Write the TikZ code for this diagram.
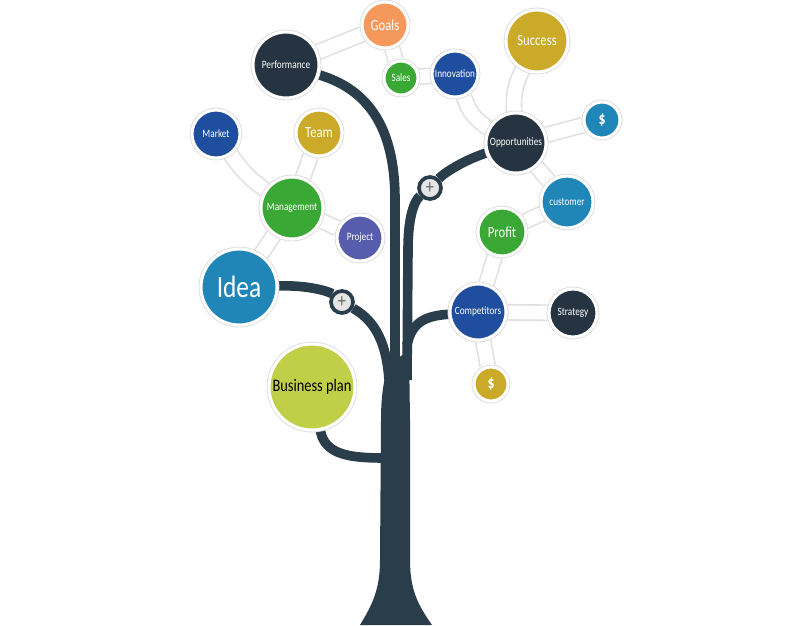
\documentclass[tikz,border=0pt]{standalone}
\usepackage{fontspec}
\setmainfont{Carlito}[FakeStretch=0.82]
\pgfdeclarelayer{bg}
\pgfsetlayers{bg,main}
\definecolor{trunkc}{RGB}{42,61,74}
\definecolor{darkn}{RGB}{37,52,64}
\definecolor{orangen}{RGB}{245,152,92}
\definecolor{greenn}{RGB}{58,168,52}
\definecolor{navyn}{RGB}{31,78,158}
\definecolor{mustn}{RGB}{203,170,42}
\definecolor{tealn}{RGB}{32,134,184}
\definecolor{purpn}{RGB}{88,92,172}
\definecolor{limen}{RGB}{192,206,72}

\begin{document}
\begin{tikzpicture}
  [x=0.025cm,y=-0.025cm,
   bub/.style={circle,inner sep=0pt,minimum size=#1*0.05cm,text=white,
     draw=white,line width=2.2pt,preaction={draw=black!14,line width=3.4pt}},
   sm/.style={font=\fontsize{8}{9}\selectfont},
   md/.style={font=\fontsize{11}{12}\selectfont},
   dol/.style={font=\bfseries\fontsize{12}{12}\selectfont},
   plusn/.style={circle,inner sep=0pt,minimum size=0.55cm,fill=black!10,
     draw=trunkc,line width=2.6pt,text=black!60,font=\fontsize{14}{14}\selectfont},
   stem/.style={draw=trunkc,line width=0.24cm}]
  \useasboundingbox (0,0) rectangle (800,625);

  \node [bub=23,fill=orangen,md] (goals) at (385,25) {Goals};
  \node [bub=33,fill=darkn,sm] (perf) at (286,65) {Performance};
  \node [bub=17,fill=greenn,sm] (sales) at (401,78) {Sales};
  \node [bub=23,fill=navyn,sm] (innov) at (455,74) {Innovation};
  \node [bub=31,fill=mustn,md] (success) at (537,41) {Success};
  \node [bub=18,fill=tealn,dol] (dollartop) at (602,120) {\$};
  \node [bub=30,fill=darkn,sm] (opp) at (516,143) {Opportunities};
  \node [bub=24,fill=navyn,sm] (market) at (216,134) {Market};
  \node [bub=23,fill=mustn,md] (team) at (319,133) {Team};
  \node [bub=31,fill=greenn,sm] (mgmt) at (292,208) {Management};
  \node [bub=23,fill=purpn,sm] (proj) at (360,238) {Project};
  \node [bub=38,fill=tealn,font=\fontsize{22}{22}\selectfont] (idea) at (239,287) {Idea};
  \node [bub=26,fill=tealn,sm] (cust) at (567,202) {customer};
  \node [bub=24,fill=greenn,md] (profit) at (502,232) {Profit};
  \node [bub=28,fill=navyn,sm] (comp) at (478,312) {Competitors};
  \node [bub=24,fill=darkn,sm] (strat) at (573,313) {Strategy};
  \node [bub=17,fill=mustn,dol] (dollarbot) at (491,384) {\$};
  \node [bub=43,fill=limen,text=black,font=\fontsize{12.5}{13}\selectfont] (bplan) at (312,387) {Business plan};

  \node [plusn] (plusL) at (342,302) {+};
  \node [plusn] (plusR) at (430,188) {+};

  \begin{pgfonlayer}{bg}
    \fill [white] (0,0) rectangle (800,625);
    % white links between the bubbles
    \foreach \from/\to/\b in {perf/goals/0,goals/sales/0,sales/innov/0,innov/opp/-20,success/opp/-15,opp/dollartop/0,opp/cust/0,cust/profit/0,profit/comp/0,comp/strat/0,comp/dollarbot/0,market/mgmt/-10,team/mgmt/0,mgmt/proj/0,mgmt/idea/0}
      \draw [black!12,line width=0.42cm] (\from) to[bend left=\b] (\to);
    \foreach \from/\to/\b in {perf/goals/0,goals/sales/0,sales/innov/0,innov/opp/-20,success/opp/-15,opp/dollartop/0,opp/cust/0,cust/profit/0,profit/comp/0,comp/strat/0,comp/dollarbot/0,market/mgmt/-10,team/mgmt/0,mgmt/proj/0,mgmt/idea/0}
      \draw [white,line width=0.34cm] (\from) to[bend left=\b] (\to);

    % trunk and branches
    \fill [trunkc] (360,625) .. controls (372,605) and (380,590) .. (380,560)
      -- (381,420) .. controls (381,395) and (384,378) .. (389,362)
      -- (401,356) -- (409,350) -- (410,420) -- (410,560)
      .. controls (410,590) and (418,605) .. (432,625) -- cycle;
    \draw [stem] (perf) .. controls (370,90) and (395,130) .. (395,200) -- (395,380);
    \draw [stem] (plusR) .. controls (415,200) and (408,215) .. (408,250) -- (407,380);
    \draw [stem] (opp) .. controls (465,160) and (445,172) .. (plusR);
    \draw [stem] (idea) .. controls (310,285) and (330,292) .. (plusL);
    \draw [stem] (plusL) .. controls (370,318) and (386,335) .. (389,380);
    \draw [stem] (comp) .. controls (425,316) and (412,322) .. (407,345);
    \draw [stem] (bplan) .. controls (325,455) and (350,458) .. (385,458);
  \end{pgfonlayer}
\end{tikzpicture}
\end{document}
